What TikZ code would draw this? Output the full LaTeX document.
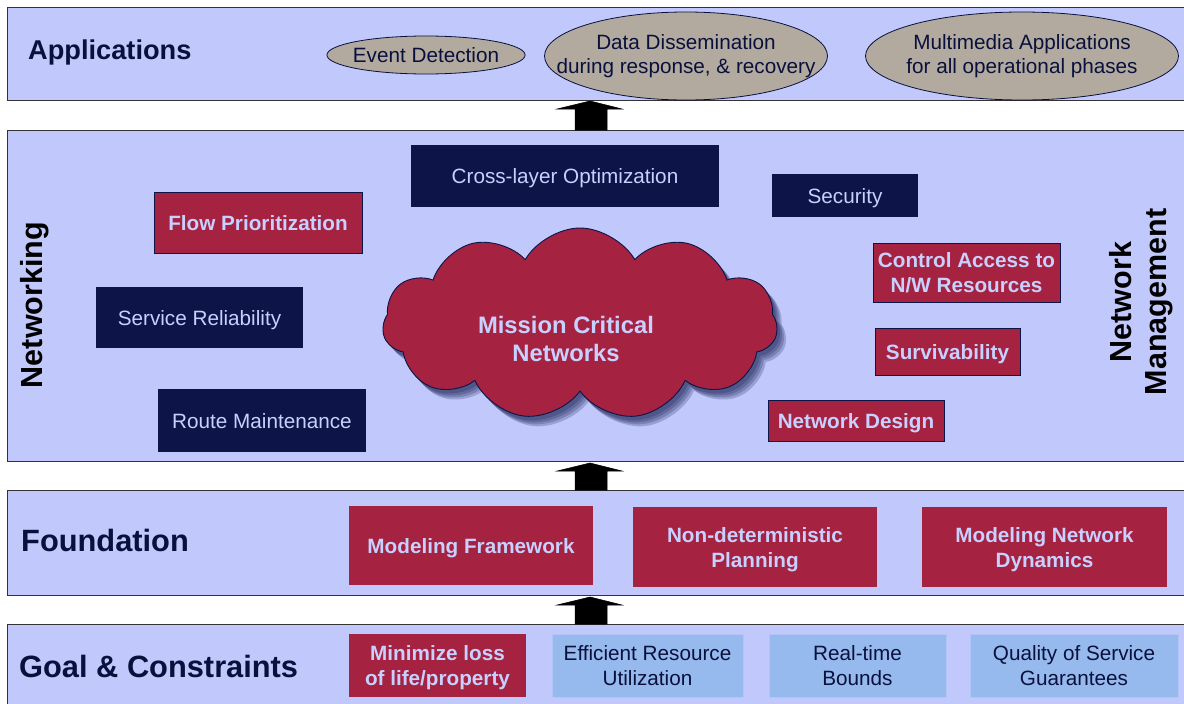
\documentclass[tikz,border=0pt]{standalone}
\usepackage{fontspec}
\setmainfont{Liberation Sans}
\usetikzlibrary{shapes.symbols,shapes.geometric}
\definecolor{bandc}{RGB}{192,200,252}
\definecolor{mred}{RGB}{165,34,64}
\definecolor{mnavy}{RGB}{12,20,72}
\definecolor{mtext}{RGB}{200,208,255}
\definecolor{ellc}{RGB}{178,170,158}
\definecolor{lblue}{RGB}{150,186,238}
\definecolor{titlec}{RGB}{10,16,60}
\definecolor{edgec}{RGB}{50,50,55}
\begin{document}
\begin{tikzpicture}[x=1pt,y=-1pt,
  bandbox/.style={draw=edgec,line width=1.3pt,fill=bandc,rectangle,anchor=north west,inner sep=0pt},
  redbox/.style={rectangle,fill=mred,draw=mnavy,line width=0.7pt,inner sep=0pt,align=center,text=mtext,text depth=0pt,font=\fontsize{20.7}{25}\selectfont\bfseries},
  fredbox/.style={redbox,draw=none},
  navybox/.style={rectangle,fill=mnavy,inner sep=0pt,align=center,text=mtext,text depth=0pt,font=\fontsize{20.7}{25}\selectfont},
  goalbox/.style={rectangle,fill=lblue,draw=bandc!70!lblue,line width=0.6pt,inner sep=0pt,align=center,text=titlec,text depth=0pt,font=\fontsize{20.7}{25}\selectfont},
  appell/.style={ellipse,fill=ellc,draw=titlec,line width=0.8pt,inner ysep=0pt,align=center,text=titlec,font=\fontsize{20.7}{24.5}\selectfont},
  bandtitle/.style={anchor=west,inner sep=0pt,text=titlec,font=\fontsize{30.8}{34}\selectfont\bfseries},
  sidetitle/.style={rotate=90,inner sep=0pt,align=center,text=black,font=\fontsize{30.5}{35}\selectfont\bfseries},
  cloudshape/.style={cloud,cloud puffs=11,cloud puff arc=120,aspect=2.1,minimum width=395pt,minimum height=192pt,inner sep=0pt},
  cloudshadow/.style={cloudshape,fill=mnavy,fill opacity=0.22,draw=none},
  blockarrow/.style={fill=black,draw=black,line width=0.5pt}]
\useasboundingbox (0,0) rectangle (1184,704);
\clip (0,0) rectangle (1184,704);
\fill[white] (0,0) rectangle (1184,704);

% bands
\node[bandbox,minimum width=1195pt,minimum height=93pt] (app) at (7,7) {};
\node[bandbox,minimum width=1195pt,minimum height=331pt] (net) at (7,130) {};
\node[bandbox,minimum width=1195pt,minimum height=105pt] (fnd) at (7,490) {};
\node[bandbox,minimum width=1195pt,minimum height=100pt] (goal) at (7,624) {};

% arrows between bands
\fill[blockarrow] (575,130) -- (575,109) -- (557,109) -- (590,101) -- (622,109) -- (607,109) -- (607,130) -- cycle;
\fill[blockarrow] (575,490) -- (575,471) -- (557,471) -- (590,463) -- (622,471) -- (607,471) -- (607,490) -- cycle;
\fill[blockarrow] (575,624) -- (575,605) -- (557,605) -- (590,597) -- (622,605) -- (607,605) -- (607,624) -- cycle;

% titles
\node[bandtitle,font=\fontsize{27.2}{30}\selectfont\bfseries] (tapp) at (28,52) {Applications};
\node[bandtitle] (tfnd) at (21,540) {Foundation};
\node[bandtitle] (tgoal) at (19,666) {Goal \& Constraints};
\node[sidetitle] (tnet) at (35,305) {Networking};
\node[sidetitle] (tmgmt) at (1141,302) {Network\\Management};

% applications
\node[appell,inner xsep=-3pt,minimum width=198pt,minimum height=38pt] (ev) at (426,55) {Event Detection};
\node[appell,inner xsep=-29.5pt,minimum width=283pt,minimum height=88pt] (dd) at (686,56) {Data Dissemination\\during response, \& recovery};
\node[appell,inner xsep=-5pt,minimum width=313pt,minimum height=88pt] (mm) at (1022,56) {Multimedia Applications\\for all operational phases};

% networking: cloud with soft shadow
\node[cloudshadow] (cs1) at (583,328) {};
\node[cloudshadow] (cs2) at (585,330) {};
\node[cloudshadow] (cs3) at (587,332) {};
\node[cloudshadow] (cs4) at (589,334) {};
\node[cloudshape,fill=mred,draw=mnavy,line width=0.9pt] (cloud) at (580,324) {};
\node[align=center,text=mtext,font=\fontsize{23.8}{28}\selectfont\bfseries,inner sep=0pt] (cloudtxt) at (566,339) {Mission Critical\\Networks};

\node[navybox,minimum width=308pt,minimum height=62pt] (cross) at (565,176) {Cross-layer Optimization};
\node[navybox,minimum width=146pt,minimum height=43pt] (sec) at (845,195.5) {Security};
\node[redbox,minimum width=208pt,minimum height=61pt] (flow) at (258,222.5) {Flow Prioritization};
\node[redbox,minimum width=187pt,minimum height=59pt] (ctrl) at (966.5,272.5) {Control Access to\\N/W Resources};
\node[navybox,minimum width=207pt,minimum height=61pt] (serv) at (199.5,317.5) {Service Reliability};
\node[redbox,minimum width=145pt,minimum height=47pt] (surv) at (947.5,351.5) {Survivability};
\node[navybox,minimum width=208pt,minimum height=63pt] (route) at (262,420.5) {Route Maintenance};
\node[redbox,minimum width=176pt,minimum height=41pt] (ndes) at (856,420.5) {Network Design};

% foundation
\node[fredbox,minimum width=244pt,minimum height=79pt] (mf) at (471,545.5) {Modeling Framework};
\node[fredbox,minimum width=244pt,minimum height=80pt] (ndp) at (755,547) {Non-deterministic\\Planning};
\node[fredbox,minimum width=245pt,minimum height=80pt] (mnd) at (1044.5,547) {Modeling Network\\Dynamics};

% goal & constraints
\node[fredbox,minimum width=177pt,minimum height=63pt] (minl) at (437.5,665.5) {Minimize loss\\of life/property};
\node[goalbox,minimum width=191pt,minimum height=63pt] (eff) at (647.5,665.5) {Efficient Resource\\Utilization};
\node[goalbox,minimum width=177pt,minimum height=63pt] (rt) at (857.5,665.5) {Real-time\\Bounds};
\node[goalbox,minimum width=208pt,minimum height=63pt] (qos) at (1074,665.5) {Quality of Service\\Guarantees};
\end{tikzpicture}
\end{document}
